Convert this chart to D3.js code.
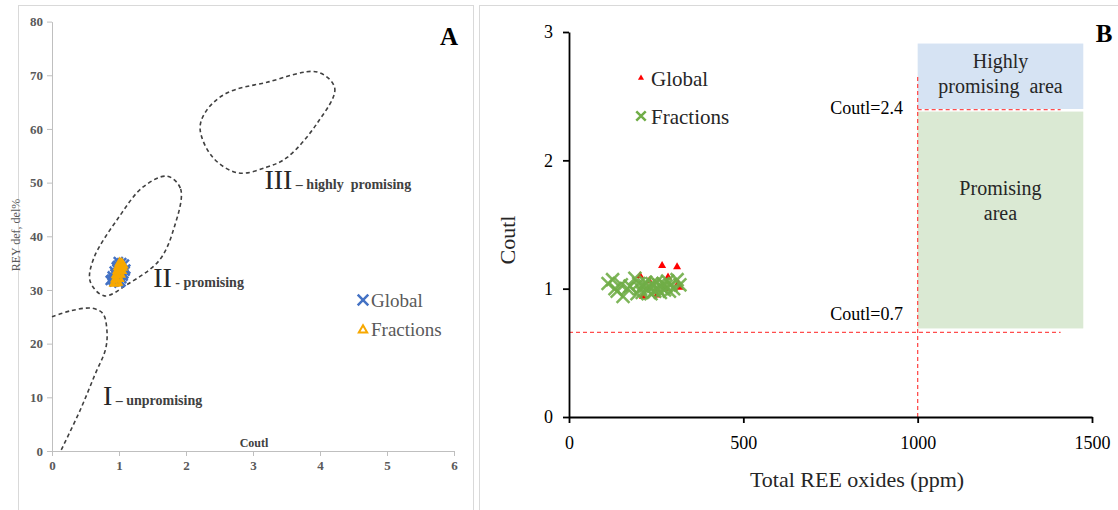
<!DOCTYPE html>
<html>
<head>
<meta charset="utf-8">
<script src="https://cdn.jsdelivr.net/npm/d3@7"></script>
<style>
body { margin: 0; background: #fff; }
text { font-family: "Liberation Serif", "Times New Roman", serif; }
</style>
</head>
<body>
<script>
// ---- panel A : Coutl vs REY def, del% ----
const globalA = [
  [0.87, 31.8], [0.93, 31.5], [1.00, 31.3], [0.90, 32.6], [0.97, 32.4], [1.04, 32.1],
  [0.93, 33.5], [1.00, 33.2], [1.07, 33.0], [0.96, 34.3], [1.03, 34.1], [1.10, 33.9],
  [0.99, 35.3], [1.04, 35.1], [1.08, 34.8], [0.89, 32.0], [0.94, 33.0], [0.98, 34.6],
  [1.03, 31.5], [1.06, 32.6], [1.09, 33.5], [0.91, 31.9], [0.97, 33.9], [1.01, 34.8]
];
const fractionsA = [
  [0.93, 31.2], [0.96, 31.3], [0.98, 31.4], [0.95, 32.0], [0.98, 32.2], [1.00, 32.1],
  [0.96, 32.8], [0.99, 33.0], [1.02, 32.9], [0.98, 33.6], [1.01, 33.8], [1.04, 33.6],
  [0.99, 34.3], [1.02, 34.5], [1.05, 34.2], [1.01, 35.0], [1.04, 34.9], [1.06, 34.6]
];
// outlines of the three zones (Coutl, REY%)
const zoneI = [
  [0.00, 25.0], [0.27, 26.1], [0.60, 26.6], [0.76, 25.6], [0.82, 22.4],
  [0.80, 19.0], [0.64, 14.2], [0.42, 7.6], [0.13, 0.0]
];
const zoneII = [
  [1.72, 51.2], [1.92, 48.8], [1.82, 41.5], [1.60, 35.5], [1.12, 31.0],
  [0.78, 28.9], [0.57, 31.6], [0.62, 35.8], [1.00, 43.6], [1.36, 49.2]
];
const zoneIII = [
  [3.96, 70.6], [4.22, 67.6], [3.96, 61.1], [3.51, 54.7], [3.21, 52.9],
  [2.78, 51.8], [2.40, 54.7], [2.21, 60.1], [2.31, 63.5], [2.61, 66.7], [3.21, 68.7]
];
const zoneLabels = [
  { num: "III", text: " \u2013 highly  promising", x: 3.17, y: 48.8 },
  { num: "II", text: " - promising", x: 1.51, y: 30.5 },
  { num: "I", text: " \u2013 unpromising", x: 0.76, y: 8.6 }
];
const ticksAx = [0, 1, 2, 3, 4, 5, 6];
const ticksAy = [0, 10, 20, 30, 40, 50, 60, 70, 80];

// ---- panel B : Total REE oxides vs Coutl ----
const globalB = [
  [204, 1.10], [212, 0.94], [252, 0.95], [267, 1.18], [284, 1.09],
  [310, 1.17], [313, 1.04], [318, 1.01], [230, 1.06], [275, 1.00]
];
const fractionsB = [
  [112, 1.04], [125, 1.07], [132, 1.00], [138, 0.98], [150, 1.03], [155, 0.94],
  [168, 1.00], [175, 1.02], [189, 1.08], [195, 0.96], [200, 1.04], [205, 1.00],
  [210, 0.97], [215, 1.03], [220, 1.05], [225, 0.99], [230, 1.01], [235, 0.96],
  [238, 1.04], [242, 1.02], [246, 0.98], [250, 1.05], [254, 1.00], [258, 1.03],
  [262, 0.97], [266, 1.01], [270, 1.04], [274, 0.99], [278, 1.02], [283, 1.06],
  [288, 0.98], [292, 1.03], [300, 1.00], [310, 1.07], [318, 1.03]
];
const areas = [
  { lines: ["Highly", "promising  area"], x0: 1000, x1: 1475, y0: 2.40, y1: 2.91, fill: "#d6e3f3", ty: 2.72 },
  { lines: ["Promising", "area"], x0: 1000, x1: 1475, y0: 0.69, y1: 2.38, fill: "#dae9d3", ty: 1.73 }
];
const limits = [
  { label: "Coutl=2.4", x0: 1000, x1: 1410, y: 2.395 },
  { label: "Coutl=0.7", x0: 0, x1: 1410, y: 0.66 }
];
const limitX = { x: 1000, y0: 0, y1: 2.65 };
const ticksBx = [0, 500, 1000, 1500];
const ticksBy = [0, 1, 2, 3];

const svg = d3.select("body").append("svg")
  .attr("width", 1118).attr("height", 510);

// panel frames
svg.append("rect").attr("x", 18.5).attr("y", 5.5).attr("width", 455).attr("height", 520)
  .attr("fill", "none").attr("stroke", "#d9d9d9");
svg.append("rect").attr("x", 479.5).attr("y", 5.5).attr("width", 660).attr("height", 520)
  .attr("fill", "none").attr("stroke", "#d9d9d9");

// ================= panel A =================
const xA = d3.scaleLinear().domain([0, 6]).range([52, 454]);
const yA = d3.scaleLinear().domain([0, 80]).range([451, 21.6]);
const gA = svg.append("g");

gA.append("g").attr("transform", "translate(52,0)")
  .call(d3.axisLeft(yA).tickValues(ticksAy).tickFormat(d3.format("d"))
    .tickSize(5).tickSizeOuter(0).tickPadding(4))
  .call(g => g.selectAll("path,line").attr("stroke", "#bfbfbf"))
  .call(g => g.selectAll("text").attr("font-size", 13)
    .attr("font-weight", "bold").attr("fill", "#595959"));
gA.append("g").attr("transform", "translate(0,451)")
  .call(d3.axisBottom(xA).tickValues(ticksAx).tickFormat(d3.format("d"))
    .tickSize(5).tickSizeOuter(0).tickPadding(5))
  .call(g => g.selectAll("path,line").attr("stroke", "#bfbfbf"))
  .call(g => g.selectAll("text").attr("font-size", 13)
    .attr("font-weight", "bold").attr("fill", "#595959"));

gA.append("text").attr("x", 254).attr("y", 447).attr("text-anchor", "middle")
  .attr("font-size", 12).attr("font-weight", "bold").attr("fill", "#404040").text("Coutl");
gA.append("text").attr("transform", "translate(20,235) rotate(-90)").attr("text-anchor", "middle")
  .attr("font-size", 12).attr("fill", "#595959").text("REY def, del%");

const lineA = d3.line().x(d => xA(d[0])).y(d => yA(d[1]));
gA.append("path").attr("d", lineA.curve(d3.curveCatmullRom)(zoneI))
  .attr("fill", "none").attr("stroke", "#404040").attr("stroke-width", 1.6).attr("stroke-dasharray", "4,3");
[zoneII, zoneIII].forEach(z => {
  gA.append("path").attr("d", lineA.curve(d3.curveCatmullRomClosed)(z))
    .attr("fill", "none").attr("stroke", "#404040").attr("stroke-width", 1.6).attr("stroke-dasharray", "4,3");
});

const zl = gA.selectAll(".zl").data(zoneLabels).enter().append("text")
  .attr("x", d => xA(d.x)).attr("y", d => yA(d.y)).attr("fill", "#262626")
  .attr("xml:space", "preserve").style("white-space", "pre");
zl.append("tspan").attr("font-size", 28).text(d => d.num);
zl.append("tspan").attr("font-size", 14).attr("font-weight", "bold").attr("fill", "#404040")
  .text(d => d.text);

const crossA = d3.symbol(d3.symbolTimes, 55);
gA.selectAll(".ga").data(globalA).enter().append("path")
  .attr("transform", d => `translate(${xA(d[0])},${yA(d[1])})`)
  .attr("d", crossA).attr("fill", "none").attr("stroke", "#4472c4").attr("stroke-width", 2.5);
const triA = d3.symbol(d3.symbolTriangle2, 46);
gA.selectAll(".fa").data(fractionsA).enter().append("path")
  .attr("transform", d => `translate(${xA(d[0])},${yA(d[1])})`)
  .attr("d", triA).attr("fill", "none").attr("stroke", "#f7a800").attr("stroke-width", 2);

// legend A
gA.append("path").attr("transform", "translate(363,300)").attr("d", d3.symbol(d3.symbolTimes, 75))
  .attr("fill", "none").attr("stroke", "#4472c4").attr("stroke-width", 2.5);
gA.append("path").attr("transform", "translate(363,330)").attr("d", d3.symbol(d3.symbolTriangle2, 50))
  .attr("fill", "none").attr("stroke", "#f7a800").attr("stroke-width", 2);
gA.append("text").attr("x", 371).attr("y", 307).attr("font-size", 19).attr("fill", "#595959").text("Global");
gA.append("text").attr("x", 371).attr("y", 336).attr("font-size", 19).attr("fill", "#595959").text("Fractions");

gA.append("text").attr("x", 449).attr("y", 45).attr("text-anchor", "middle")
  .attr("font-size", 25).attr("font-weight", "bold").attr("fill", "#000").text("A");

// ================= panel B =================
const xB = d3.scaleLinear().domain([0, 1500]).range([569, 1092]);
const yB = d3.scaleLinear().domain([0, 3]).range([417, 32]);
const gB = svg.append("g");

gB.selectAll(".area").data(areas).enter().append("rect")
  .attr("x", d => xB(d.x0)).attr("width", d => xB(d.x1) - xB(d.x0))
  .attr("y", d => yB(d.y1)).attr("height", d => yB(d.y0) - yB(d.y1))
  .attr("fill", d => d.fill);
areas.forEach(a => {
  const t = gB.append("text").attr("text-anchor", "middle").attr("font-size", 20).attr("fill", "#262626")
    .attr("x", xB((a.x0 + a.x1) / 2)).attr("y", yB(a.ty)).style("white-space", "pre");
  a.lines.forEach((l, i) => t.append("tspan").attr("x", xB((a.x0 + a.x1) / 2)).attr("dy", i ? 25 : 0).text(l));
});

limits.forEach(l => {
  gB.append("line").attr("x1", xB(l.x0)).attr("x2", xB(l.x1)).attr("y1", yB(l.y)).attr("y2", yB(l.y))
    .attr("stroke", "#ff4d4d").attr("stroke-width", 1.3).attr("stroke-dasharray", "4,3");
  gB.append("text").attr("x", 903).attr("y", yB(l.y) + (l.y > 2 ? 4 : -12)).attr("text-anchor", "end")
    .attr("font-size", 18).attr("fill", "#000").text(l.label);
});
gB.append("line").attr("x1", xB(limitX.x)).attr("x2", xB(limitX.x))
  .attr("y1", yB(limitX.y0)).attr("y2", yB(limitX.y1))
  .attr("stroke", "#ff4d4d").attr("stroke-width", 1.3).attr("stroke-dasharray", "4,3");

gB.append("g").attr("transform", "translate(569,0)")
  .call(d3.axisLeft(yB).tickValues(ticksBy).tickFormat(d3.format("d"))
    .tickSize(6).tickSizeOuter(0).tickPadding(10))
  .call(g => g.selectAll("path,line").attr("stroke", "#000").attr("stroke-width", 1.8))
  .call(g => g.selectAll("text").attr("font-size", 18).attr("fill", "#000"));
gB.append("g").attr("transform", "translate(0,417)")
  .call(d3.axisBottom(xB).tickValues(ticksBx).tickFormat(d3.format("d"))
    .tickSize(6).tickSizeOuter(0).tickPadding(13))
  .call(g => g.selectAll("path,line").attr("stroke", "#000").attr("stroke-width", 1.8))
  .call(g => g.selectAll("text").attr("font-size", 18).attr("fill", "#000"));

gB.append("text").attr("x", 857).attr("y", 487).attr("text-anchor", "middle")
  .attr("font-size", 22).attr("fill", "#262626").text("Total REE oxides (ppm)");
gB.append("text").attr("transform", "translate(515,240) rotate(-90)").attr("text-anchor", "middle")
  .attr("font-size", 22).attr("fill", "#262626").text("Coutl");

const triB = d3.symbol(d3.symbolTriangle, 28);
gB.selectAll(".gb").data(globalB).enter().append("path")
  .attr("transform", d => `translate(${xB(d[0])},${yB(d[1])})`)
  .attr("d", triB).attr("fill", "#ff0000");
const crossB = d3.symbol(d3.symbolTimes, 110);
gB.selectAll(".fb").data(fractionsB).enter().append("path")
  .attr("transform", d => `translate(${xB(d[0])},${yB(d[1])})`)
  .attr("d", crossB).attr("fill", "none").attr("stroke", "#70ad47").attr("stroke-width", 2.5)
  .attr("stroke-opacity", 0.9);

// legend B
gB.append("path").attr("transform", "translate(641,78)").attr("d", d3.symbol(d3.symbolTriangle, 16))
  .attr("fill", "#ff0000");
gB.append("path").attr("transform", "translate(641,116)").attr("d", d3.symbol(d3.symbolTimes, 60))
  .attr("fill", "none").attr("stroke", "#70ad47").attr("stroke-width", 2.5);
gB.append("text").attr("x", 651).attr("y", 86).attr("font-size", 21).attr("fill", "#262626").text("Global");
gB.append("text").attr("x", 651).attr("y", 124).attr("font-size", 21).attr("fill", "#262626").text("Fractions");

gB.append("text").attr("x", 1104).attr("y", 42).attr("text-anchor", "middle")
  .attr("font-size", 25).attr("font-weight", "bold").attr("fill", "#000").text("B");
</script>
</body>
</html>
